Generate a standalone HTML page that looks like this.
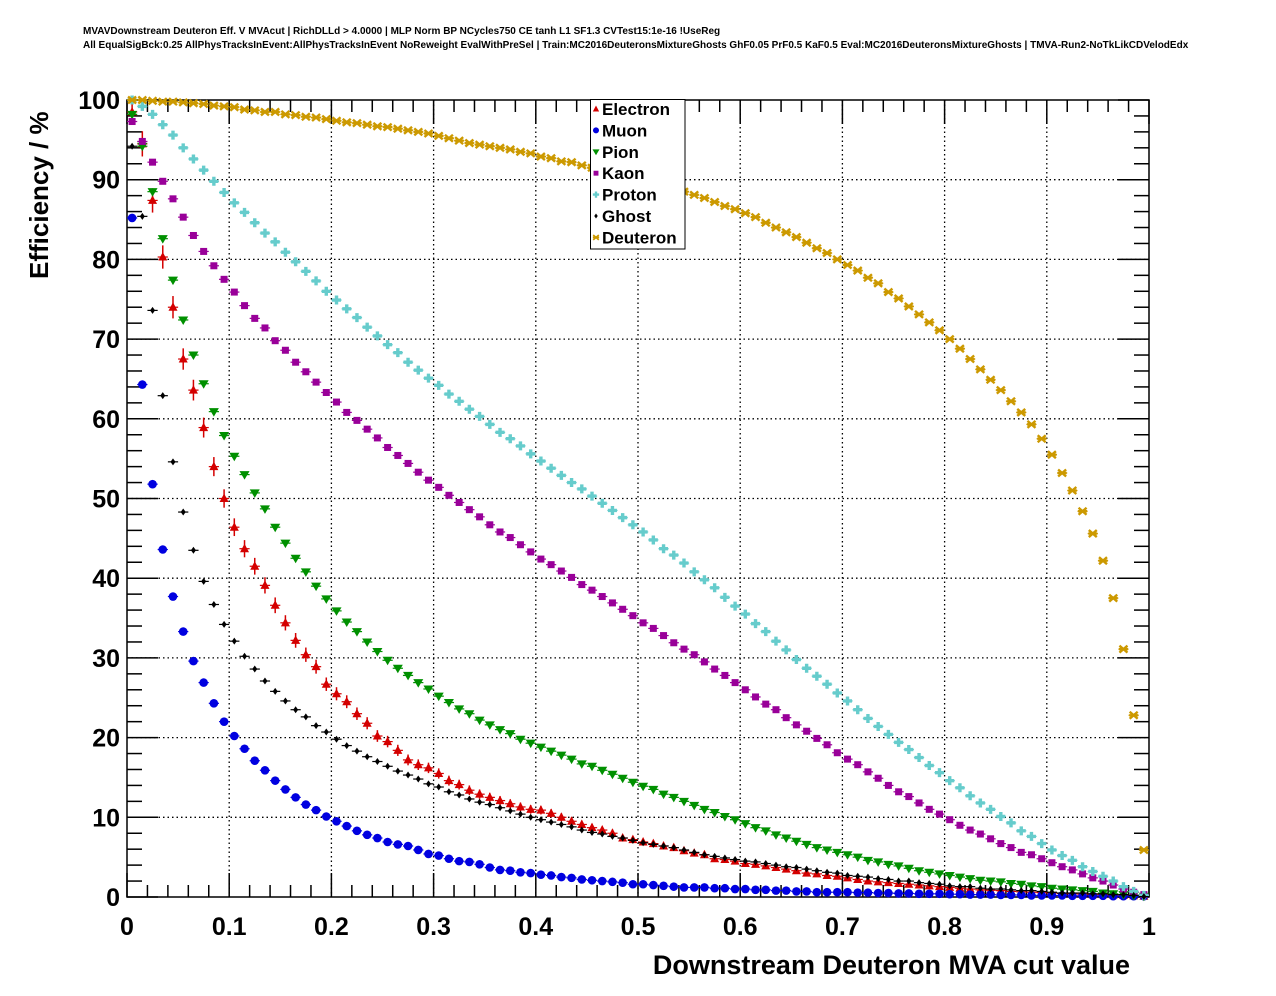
<!DOCTYPE html>
<html><head><meta charset="utf-8">
<style>
html,body{margin:0;padding:0;background:#fff;}
svg{display:block;font-family:"Liberation Sans",Arial,sans-serif;}
</style></head>
<body>
<svg id="chart" width="1276" height="996" viewBox="0 0 1276 996" xmlns="http://www.w3.org/2000/svg">
<rect x="0" y="0" width="1276" height="996" fill="#fff"/>
<text x="83" y="34" font-size="10" font-weight="bold">MVAVDownstream Deuteron Eff. V MVAcut | RichDLLd &gt; 4.0000 | MLP Norm BP NCycles750 CE tanh L1 SF1.3 CVTest15:1e-16 !UseReg</text>
<text x="83" y="48" font-size="10" font-weight="bold">All EqualSigBck:0.25 AllPhysTracksInEvent:AllPhysTracksInEvent NoReweight EvalWithPreSel | Train:MC2016DeuteronsMixtureGhosts GhF0.05 PrF0.5 KaF0.5 Eval:MC2016DeuteronsMixtureGhosts | TMVA-Run2-NoTkLikCDVelodEdx</text>
<g id="grid"></g>
<g id="axes"></g>
<g id="series"></g>
<text x="1130" y="974" font-size="27" font-weight="bold" text-anchor="end">Downstream Deuteron MVA cut value</text>
<text transform="translate(48,279) rotate(-90)" font-size="26" font-weight="bold" text-anchor="start">Efficiency / %</text>
<g id="legend"></g>
</svg>
<script>
const xTicks = [0,0.1,0.2,0.3,0.4,0.5,0.6,0.7,0.8,0.9,1];
const xTickLabels = ["0","0.1","0.2","0.3","0.4","0.5","0.6","0.7","0.8","0.9","1"];
const yTicks = [0,10,20,30,40,50,60,70,80,90,100];
const yTickLabels = ["0","10","20","30","40","50","60","70","80","90","100"];
const seriesNames = ["Electron","Muon","Pion","Kaon","Proton","Ghost","Deuteron"];
const electron = [98.5,94.5,87.4,80.3,74.0,67.5,63.6,58.9,54.0,
50.0,46.4,43.7,41.5,39.1,36.6,34.4,32.2,30.4,28.9,26.7,25.5,24.5,23.0,21.8,20.2,19.5,18.4,17.2,16.6,16.2,15.5,
14.6,14.1,13.4,12.9,12.5,12.1,11.7,11.3,11.0,10.9,10.5,10.0,9.5,9.1,8.7,8.4,8.0,7.4,7.2,6.9,6.7,6.4,6.2,5.8,5.5,5.3,4.8,4.7,4.5,4.2,4.1,3.9,3.7,3.5,3.3,3.0,2.9,2.7,2.6,
2.4,2.2,2.0,1.9,1.8,1.7,1.6,1.5,1.4,1.3,1.2,1.1,1.0,0.9,0.85,0.8,0.7,0.65,0.6,0.55,0.5,0.45,0.4,0.35,0.3,0.3,0.25,0.2,0.15,0.1];
const muon = [85.2,64.3,51.8,
43.6,37.7,33.3,29.6,26.9,24.3,22.0,20.2,18.6,17.1,15.9,14.6,13.5,12.5,11.6,10.9,10.1,9.5,8.9,8.3,7.8,7.4,6.9,6.6,6.4,5.9,5.4,5.2,
4.8,4.5,4.4,4.1,3.7,3.4,3.3,3.1,3.0,2.8,2.7,2.5,2.4,2.2,2.1,2.0,1.9,1.8,1.6,1.6,1.5,1.4,1.3,1.2,1.2,1.2,1.1,1.1,1.0,1.0,0.9,0.9,0.8,0.8,0.7,0.7,0.6,0.6,0.6,
0.6,0.55,0.55,0.5,0.5,0.45,0.45,0.4,0.4,0.4,0.35,0.35,0.3,0.3,0.3,0.25,0.25,0.25,0.2,0.2,0.2,0.2,0.15,0.15,0.15,0.15,0.1,0.1,0.1,0.1];
const pion = [98.2,94.2,88.5,82.6,77.4,72.4,68.0,64.4,60.9,57.9,55.3,53.0,50.7,
48.7,46.4,44.4,42.5,40.8,39.0,37.4,35.9,34.5,33.3,32.0,30.8,29.7,28.7,27.8,26.9,26.1,25.2,
24.4,23.6,23.0,22.2,21.6,21.0,20.5,19.8,19.3,18.8,18.3,17.8,17.3,16.7,16.4,15.9,15.4,14.9,14.4,13.9,13.5,12.9,12.5,12.0,11.5,11.0,10.6,10.1,9.7,9.2,8.7,8.3,7.8,7.4,7.0,6.6,6.2,5.9,5.6,
5.3,5.0,4.6,4.4,4.1,3.9,3.6,3.3,3.1,2.9,2.7,2.5,2.3,2.1,2.0,1.9,1.7,1.6,1.4,1.3,1.1,1.0,0.9,0.8,0.7,0.5,0.4,0.3,0.2,0.1];
const kaon = [97.3,94.8,92.2,89.8,87.6,85.3,83.0,81.0,79.2,77.5,75.9,74.2,72.6,71.4,69.8,68.6,67.1,65.9,64.6,63.3,62.1,60.8,59.8,58.7,57.6,56.4,55.4,54.4,53.3,52.3,51.4,
50.4,49.5,48.6,47.7,46.7,45.8,45.1,44.2,43.3,42.4,41.7,40.9,40.1,39.2,38.5,37.7,36.9,36.1,35.3,34.4,33.7,32.8,31.9,31.1,30.4,29.5,28.6,27.8,26.9,26.0,25.1,24.2,23.5,22.5,21.6,20.8,19.9,19.1,18.1,
17.3,16.6,15.7,14.9,14.0,13.2,12.6,11.8,11.0,10.4,9.7,9.0,8.4,7.9,7.3,6.7,6.2,5.6,5.3,4.8,4.3,3.8,3.4,2.9,2.4,2.0,1.5,1.0,0.6,0.3];
const proton = [100,99.2,98.2,96.9,95.6,94.0,92.6,91.2,89.8,88.4,87.1,85.9,84.6,83.3,82.2,80.9,79.7,78.5,77.3,76.0,74.9,73.8,72.7,71.5,70.4,69.3,68.3,67.1,66.1,65.1,64.2,
63.1,62.2,61.2,60.3,59.3,58.3,57.5,56.6,55.6,54.7,53.8,52.9,52.0,51.2,50.3,49.4,48.5,47.6,46.7,45.8,44.8,43.7,42.9,41.9,40.8,39.8,38.8,37.6,36.5,35.5,34.3,33.3,32.1,31.0,29.8,28.7,27.7,26.7,25.6,
24.6,23.5,22.4,21.4,20.4,19.4,18.5,17.5,16.5,15.6,14.6,13.7,12.7,11.8,11.0,10.1,9.3,8.3,7.6,6.7,5.9,5.2,4.6,3.8,3.2,2.6,2.0,1.3,0.7,0.2];
const ghost = [94.2,85.4,73.6,62.9,54.6,48.3,43.5,39.6,36.7,34.2,32.1,30.2,28.6,27.1,25.8,24.6,23.5,22.6,21.5,20.7,19.8,19.0,18.3,17.6,17.0,16.4,15.8,15.3,14.8,14.2,13.8,
13.2,12.8,12.3,11.9,11.6,11.2,10.8,10.4,10.0,9.7,9.4,9.1,8.8,8.4,8.1,7.9,7.6,7.4,7.1,6.8,6.6,6.4,6.2,5.9,5.6,5.3,5.1,4.9,4.7,4.5,4.4,4.2,4.0,3.8,3.7,3.5,3.3,3.1,3.0,
2.7,2.6,2.5,2.3,2.2,2.0,2.0,1.8,1.7,1.6,1.4,1.3,1.3,1.1,1.0,1.0,0.9,0.8,0.8,0.7,0.6,0.5,0.5,0.5,0.4,0.4,0.3,0.3,0.2,0.05];
const deuteron = [100,100,99.9,99.8,99.8,99.7,99.6,99.5,99.3,99.2,99.1,98.8,98.7,98.5,98.5,98.2,98.1,97.9,97.8,97.6,97.4,97.2,97.1,96.9,96.7,96.6,96.4,96.2,96.0,95.8,95.5,
95.2,94.9,94.6,94.4,94.2,94.0,93.8,93.5,93.3,92.9,92.7,92.3,92.2,91.8,91.5,
91.2,90.9,90.6,90.2,89.9,89.5,89.2,88.8,88.5,
88.1,87.7,87.2,86.7,86.3,85.8,85.3,84.6,84.0,83.4,82.8,82.1,81.4,80.8,80.0,79.3,78.6,77.7,77.0,75.9,75.1,74.1,73.1,72.1,71.1,70.0,68.8,
67.5,66.2,64.9,63.6,62.2,60.8,59.3,57.5,55.5,53.2,51.0,
48.4,45.6,42.2,37.5,31.1,22.8,5.9];

const X0=127, X1=1149, Y0=897, Y1=100;
const xs = v => X0 + (X1-X0)*v;
const ys = v => Y0 - (Y0-Y1)*v/100;
const NS='http://www.w3.org/2000/svg';
function mk(tag, attrs, parent){const e=document.createElementNS(NS,tag);for(const k in attrs)e.setAttribute(k,attrs[k]);parent.appendChild(e);return e;}

const grid=document.getElementById('grid');
xTicks.forEach((t,i)=>{ if(i>0&&i<xTicks.length-1){
  const l=mk('line',{x1:xs(t),x2:xs(t),y1:Y1,y2:Y0,stroke:'#000','stroke-width':1.3,'stroke-dasharray':'1.5,3'},grid);
  
  
}});
yTicks.forEach((t,i)=>{ if(i>0&&i<yTicks.length-1){
  const l=mk('line',{x1:X0,x2:X1,y1:ys(t),y2:ys(t),stroke:'#000','stroke-width':1.3,'stroke-dasharray':'1.5,3'},grid);
  
  
}});

const axes=document.getElementById('axes');
const frame=mk('rect',{x:X0,y:Y1,width:X1-X0,height:Y0-Y1,fill:'none',stroke:'#000','stroke-width':1.5},axes);


for(let k=0;k<=50;k++){
  const v=k/50, major=(k%5===0), L=major?24:12;
  const b=mk('line',{x1:xs(v),x2:xs(v),y1:Y0,y2:Y0-L,stroke:'#000','stroke-width':1.5},axes);
  
  
  const t=mk('line',{x1:xs(v),x2:xs(v),y1:Y1,y2:Y1+L,stroke:'#000','stroke-width':1.5},axes);
  
  
}
for(let k=0;k<=50;k++){
  const v=k*2, major=(k%5===0), L=major?31:15;
  const a=mk('line',{x1:X0,x2:X0+L,y1:ys(v),y2:ys(v),stroke:'#000','stroke-width':1.5},axes);
  
  
  const b=mk('line',{x1:X1,x2:X1-L,y1:ys(v),y2:ys(v),stroke:'#000','stroke-width':1.5},axes);
  
  
}
xTicks.forEach((t,i)=>{
  const e=mk('text',{x:xs(t),y:935,'font-size':25,'font-weight':'bold','text-anchor':'middle'},axes);
  e.textContent=xTickLabels[i];
  
  
});
yTicks.forEach((t,i)=>{
  const e=mk('text',{x:120,y:ys(t)+9,'font-size':25,'font-weight':'bold','text-anchor':'end'},axes);
  e.textContent=yTickLabels[i];
  
  
});

const colors={Electron:'#d40000',Muon:'#0000e0',Pion:'#009000',Kaon:'#990099',Proton:'#66cccc',Ghost:'#000000',Deuteron:'#cc9900'};
function marker(name,cx,cy,g,s){
  const c=colors[name]; s=s||1; let e;
  if(name==='Electron') e=mk('polygon',{points:`${cx},${cy-5*s} ${cx-4.5*s},${cy+3.5*s} ${cx+4.5*s},${cy+3.5*s}`,fill:c},g);
  else if(name==='Muon') e=mk('circle',{cx:cx,cy:cy,r:4.3*s,fill:c},g);
  else if(name==='Pion') e=mk('polygon',{points:`${cx},${cy+5*s} ${cx-5*s},${cy-3.5*s} ${cx+5*s},${cy-3.5*s}`,fill:c},g);
  else if(name==='Kaon') e=mk('rect',{x:cx-3.5*s,y:cy-3.5*s,width:7*s,height:7*s,fill:c},g);
  else if(name==='Proton') e=mk('path',{d:`M${cx-1.7*s},${cy-4.5*s}h${3.4*s}v${2.8*s}h${2.8*s}v${3.4*s}h${-2.8*s}v${2.8*s}h${-3.4*s}v${-2.8*s}h${-2.8*s}v${-3.4*s}h${2.8*s}z`,fill:c},g);
  else if(name==='Ghost') e=mk('polygon',{points:`${cx},${cy-3.5*s} ${cx+2.5*s},${cy} ${cx},${cy+3.5*s} ${cx-2.5*s},${cy}`,fill:c},g);
  else { e=mk('path',{d:`M${cx-4*s},${cy-3.5*s}L${cx+4*s},${cy+3.5*s}M${cx+4*s},${cy-3.5*s}L${cx-4*s},${cy+3.5*s}M${cx-4.5*s},${cy}H${cx+4.5*s}`,stroke:c,'stroke-width':2.4*s,fill:'none'},g); }
  return e;
}
const seriesData=[electron,muon,pion,kaon,proton,ghost,deuteron];
const seriesG=document.getElementById('series');
seriesNames.forEach((name,si)=>{
  const g=mk('g',{},seriesG);
  
  
  const vals=seriesData[si];
  vals.forEach((v,i)=>{
    const xv=(i+0.5)/vals.length;
    const cx=xs(xv), cy=ys(v);
    const eb=mk('line',{x1:xs(i/vals.length),x2:xs((i+1)/vals.length),y1:cy,y2:cy,stroke:colors[name],'stroke-width':1.2},g);
    
    
    if(name==='Electron'){
      const h=1.3*Math.sqrt(Math.max(v,0));
      const ve=mk('line',{x1:cx,x2:cx,y1:cy-h,y2:cy+h,stroke:colors[name],'stroke-width':1.5},g);
      
      
    }
    const m=marker(name,cx,cy,g);
    
    
  });
});

const lg=document.getElementById('legend');
const box=mk('rect',{x:590.5,y:99.5,width:94.5,height:149.5,fill:'#fff',stroke:'#000','stroke-width':1},lg);


seriesNames.forEach((name,i)=>{
  const y=109+i*21.4;
  const m=marker(name,596,y,lg,0.7);
  
  
  const t=mk('text',{x:602,y:y+6,'font-size':17,'font-weight':'bold'},lg);
  t.textContent=name;
  
  
});
</script>
</body></html>
